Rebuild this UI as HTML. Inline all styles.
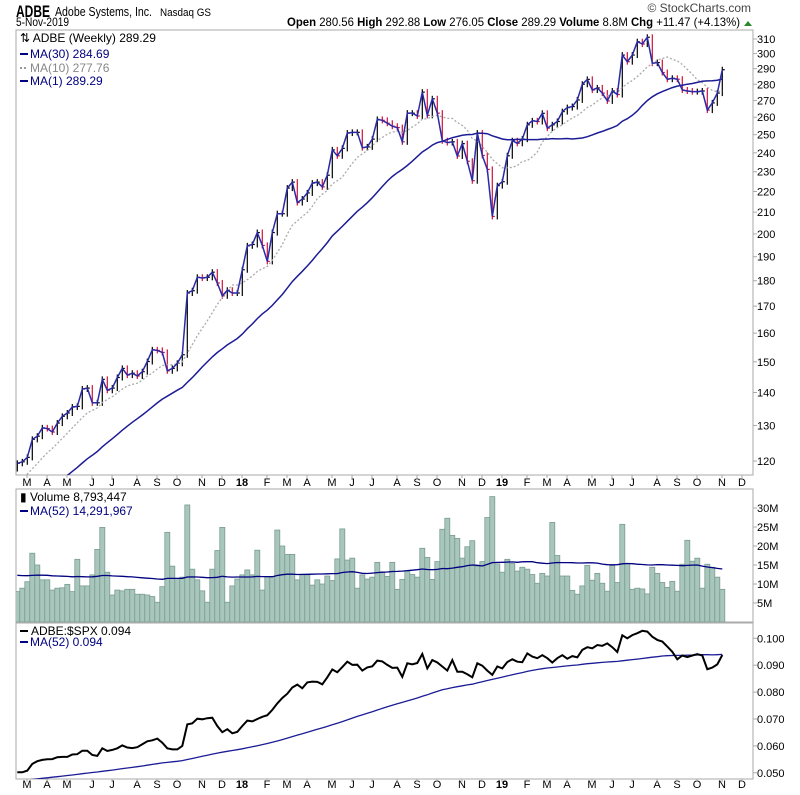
<!DOCTYPE html>
<html><head><meta charset="utf-8"><style>
body{margin:0;background:#fff;}
svg{display:block;font-family:"Liberation Sans",sans-serif;}
</style></head><body>
<svg id="chart" width="800" height="795" viewBox="0 0 800 795" xmlns="http://www.w3.org/2000/svg">
<defs>
<clipPath id="cpMain"><rect x="16" y="30" width="737" height="445"/></clipPath>
<clipPath id="cpVol"><rect x="16" y="489" width="737" height="133"/></clipPath>
<clipPath id="cpRat"><rect x="16" y="623" width="737" height="156"/></clipPath>
</defs>
<text x="16" y="17" font-size="17" font-weight="bold" textLength="34" lengthAdjust="spacingAndGlyphs">ADBE</text>
<text x="55" y="16" font-size="13" textLength="97" lengthAdjust="spacingAndGlyphs">Adobe Systems, Inc.</text>
<text x="160" y="16" font-size="11" textLength="51" lengthAdjust="spacingAndGlyphs">Nasdaq GS</text>
<text x="16" y="26" font-size="12" textLength="53" lengthAdjust="spacingAndGlyphs">5-Nov-2019</text>
<text x="751" y="12" font-size="12" text-anchor="end" fill="#444">© StockCharts.com</text>
<text x="287" y="26" font-size="12" textLength="453" lengthAdjust="spacingAndGlyphs"><tspan font-weight="bold">Open</tspan> 280.56 <tspan font-weight="bold">High</tspan> 292.88 <tspan font-weight="bold">Low</tspan> 276.05 <tspan font-weight="bold">Close</tspan> 289.29 <tspan font-weight="bold">Volume</tspan> 8.8M <tspan font-weight="bold">Chg</tspan> +11.47 (+4.13%)</text>
<path d="M744 26 L748 21 L752 26 Z" fill="#2a8a2a"/>
<rect x="16" y="30" width="737" height="445" fill="none" stroke="#aaa"/>
<rect x="16" y="489" width="737" height="133" fill="none" stroke="#aaa"/>
<rect x="16" y="623" width="737" height="156" fill="none" stroke="#aaa"/>
<g id="gPrice" clip-path="url(#cpMain)"></g>
<g id="gVol" clip-path="url(#cpVol)"></g>
<g id="gRat" clip-path="url(#cpRat)"></g>
<g id="gAxes"></g>
<g font-size="12">
<text x="20" y="42">⇅ ADBE (Weekly) 289.29</text>
<line x1="20" y1="54" x2="28" y2="54" stroke="#000080" stroke-width="2"/><text x="30" y="58" fill="#000080">MA(30) 284.69</text>
<line x1="20" y1="68" x2="28" y2="68" stroke="#999" stroke-width="2" stroke-dasharray="2,2"/><text x="30" y="72" fill="#888">MA(10) 277.76</text>
<line x1="20" y1="81" x2="28" y2="81" stroke="#000080" stroke-width="2"/><text x="30" y="85" fill="#000080">MA(1) 289.29</text>
</g>
<g font-size="12">
<text x="20" y="501">▮ Volume 8,793,447</text>
<line x1="20" y1="511" x2="28" y2="511" stroke="#000080" stroke-width="2"/><text x="30" y="515" fill="#000080">MA(52) 14,291,967</text>
</g>
<g font-size="12">
<line x1="20" y1="631" x2="28" y2="631" stroke="#000" stroke-width="2"/><text x="31" y="635">ADBE:$SPX 0.094</text>
<line x1="20" y1="642" x2="28" y2="642" stroke="#000080" stroke-width="2"/><text x="30" y="646" fill="#000080">MA(52) 0.094</text>
</g>
</svg>
<script>
const closes=[119.4,119.8,121,126,126.9,129.3,129.1,128.1,130.7,132.7,133.7,135.5,135.7,141.1,141.4,136.8,136.8,144.2,140.7,141.4,144.8,147.8,145.6,146.2,145.3,146.7,150.1,154.1,153.9,153.2,147.0,147.8,149.5,152.4,175.1,176,181.4,181.1,181.4,183.5,179.1,174.0,176.2,175.1,175.1,184.5,
194.7,195.3,200.6,194.9,188,200.6,209.3,209.3,221.7,224.7,214.6,216.3,219.3,224.2,224.7,222.3,228.2,241.6,238.4,242.4,250.9,251.3,251.3,242.8,243.2,247.5,258.7,258.2,256.5,254.8,254,246,262.4,262.4,260.7,275.1,261.1,271,262.4,246.6,245.6,246,238.3,245,235.5,225.4,250.9,238.6,231.2,208,222.9,
224.9,238.4,246.6,245.2,247.5,255.6,257.9,257.5,262.3,253.7,255.6,257.5,263.3,265.7,266.3,270.3,280,283.1,276.4,277.7,274.5,269.7,275.8,273.6,299,294.6,299,308.1,306.5,311.2,293.6,294,287.5,283.2,283.8,283.2,276.4,275.8,275.4,275.4,275.8,264.2,268.5,274.5,289.3];
const priceHistory=[101,102,103,101,100,102,103,104,103,102,103,104,106,107,108,106,105,106,108,109,110,111,112,113,114,115,116,117,118];
const volumes=[8.0,8.9,10.6,18.1,15.0,11.1,11.1,8.4,8.9,9.0,9.9,8.0,16.5,9.5,9.5,12.4,19.1,24.9,13.1,7.1,8.4,8.2,8.6,8.6,7.3,7.3,7.1,6.7,5.2,9.3,23.6,14.7,11.5,11.8,30.8,13.9,11.1,8.2,5.2,13.9,18.8,24.9,5.2,9.5,11.3,12.4,13.7,12.4,18.9,
8.4,11.9,11.9,24.2,20.0,17.8,17.8,11.1,12.4,12.4,9.7,11.1,10.0,12.1,10.9,16.6,24.5,16.3,16.8,8.9,12.4,11.3,11.8,15.7,13.2,12.0,
15.7,8.6,11.2,13.4,12.5,11.8,19.4,17.0,11.2,15.9,24.4,27.3,22.8,22.0,16.8,19.8,21.4,14.7,15.9,27.5,33.0,15.3,13.1,16.5,15.4,13.4,14.4,13.9,12.5,10.2,12.8,12.1,26.2,17.5,12.1,12.1,8.3,7.3,9.5,14.9,11.0,12.8,10.2,8.1,14.9,10.4,25.7,15.4,8.6,8.9,8.7,7.4,14.4,12.8,10.4,9.1,10.7,8.1,15.2,21.5,16.0,16.8,8.9,15.2,14.4,11.8,8.6];
const volumeHistory=[13,12,14,11,12,13,15,12,11,13,14,12,12,13,11,12,14,13,12,12,11,13,12,14,13,12,11,12,13,12,14,12,11,13,12,12,13,11,12,14,12,13,12,11,12,13,12,12,11,12,13];
const ratios=[.0502,.0502,.0508,.0533,.0543,.0548,.0550,.0551,.0558,.0559,.0559,.0568,.0569,.0582,.0582,.0566,.0563,.0591,.0581,.0585,.0591,.0602,.0594,.0592,.0595,.0606,.0617,.0621,.0627,.0612,.0591,.0587,.0587,.0600,.0680,.0684,.0701,.0699,.0703,.0705,.0674,.0651,.0662,.0647,.0652,.0674,.0694,.0691,.0700,.0708,.0714,.0734,.0758,.0778,.0794,.0817,.0828,.0814,.0836,.0839,.0838,.0829,.0855,.0884,.0874,.0893,.0913,.0901,.0902,.0880,.0892,.0896,.0917,.0914,.0901,.0890,.0891,.0857,.0907,.0903,.0908,.0942,.0888,.0919,.0910,.0895,.0880,.0919,.0876,.0876,.0866,.0855,.0907,.0898,.0880,.0864,.0895,.0888,.0912,.0922,.0913,
.0911,.0944,.0932,.0926,.0937,.0926,.0910,.0926,.0937,.0924,.0934,.0929,.0957,.0967,.0963,.0975,.0972,.0981,.0967,.0949,.1011,.1000,.1012,.1019,.1028,.1025,.1006,.0994,.0988,.0969,.0950,.0922,.0936,.0930,.0936,.0941,.0936,.0885,.0891,.0903,.0938];
const ratioHistory=[.043,.043,.044,.044,.044,.045,.044,.045,.045,.045,.046,.045,.046,.046,.046,.045,.046,.046,.047,.046,.046,.047,.047,.046,.047,.047,.047,.048,.047,.048,.048,.048,.047,.048,.048,.049,.048,.049,.049,.049,.048,.049,.049,.050,.049,.050,.050,.050,.049,.050,.050];
const priceTicks=[120,130,140,150,160,170,180,190,200,210,220,230,240,250,260,270,280,290,300,310];
const volTicks=[5,10,15,20,25,30];
const ratioTicks=[0.050,0.060,0.070,0.080,0.090,0.100];
const monthLabels=["M","A","M","J","J","A","S","O","N","D","18","F","M","A","M","J","J","A","S","O","N","D","19","F","M","A","M","J","J","A","S","O","N","D"];
const monthWeeks=[2,6,10,15,19,24,28,32,37,41,45,50,54,58,63,67,71,76,80,84,89,93,97,102,106,110,115,119,123,128,132,136,141,145];

const NS="http://www.w3.org/2000/svg";
function xOf(i){return 17.3+5*i;}
function yP(p){return 39+444.7*Math.log(310/p);}
function yV(v){return 622-3.8*v;}
function yR(r){return 638.3+(0.1-r)*2690;}
function mk(tag,attrs,parent){const e=document.createElementNS(NS,tag);for(const k in attrs)e.setAttribute(k,attrs[k]);parent.appendChild(e);return e;}
function ma(hist,data,n){const all=hist.concat(data);const out=[];for(let i=0;i<data.length;i++){const end=hist.length+i;let s=0,c=0;for(let j=end-n+1;j<=end;j++){if(j>=0){s+=all[j];c++;}}out.push(s/c);}return out;}
function pathOf(vals,yf){return vals.map((v,i)=>(i?'L':'M')+xOf(i).toFixed(1)+' '+yf(v).toFixed(1)).join(' ');}

const gP=document.getElementById('gPrice'),gV=document.getElementById('gVol'),gR=document.getElementById('gRat'),gA=document.getElementById('gAxes');
closes.forEach((c,i)=>{
  const prev=i?closes[i-1]:priceHistory[priceHistory.length-1];
  const hi=Math.max(prev,c),lo=Math.min(prev,c);
  const col=c<prev?'#d0103a':'#000';
  const x=xOf(i);
  const b=mk('line',{x1:x,x2:x,y1:yP(hi)-3,y2:yP(lo)+3,stroke:col,'stroke-width':1.2},gP);
  
  
  const t=mk('line',{x1:x,x2:x+2.5,y1:yP(c),y2:yP(c),stroke:col,'stroke-width':1.2},gP);
  
  
});
const ma10=ma(priceHistory,closes,10),ma30=ma(priceHistory,closes,30);
const l10=mk('path',{d:pathOf(ma10,yP),fill:'none',stroke:'#aaa','stroke-width':1.3,'stroke-dasharray':'2,2'},gP);


const l30=mk('path',{d:pathOf(ma30,yP),fill:'none',stroke:'#1c1c96','stroke-width':1.5},gP);


const l1=mk('path',{d:pathOf(closes,yP),fill:'none',stroke:'#2a2aa8','stroke-width':1.5},gP);


volumes.forEach((v,i)=>{
  const r=mk('rect',{x:xOf(i)-2.5,y:yV(v),width:5,height:622-yV(v),fill:'#a8c6bc',stroke:'#7a9c92','stroke-width':0.8},gV);
  
  
});
const vma=mk('path',{d:pathOf(ma(volumeHistory,volumes,52),yV),fill:'none',stroke:'#000080','stroke-width':1.3},gV);


const rma=mk('path',{d:pathOf(ma(ratioHistory,ratios,52),yR),fill:'none',stroke:'#1c1c96','stroke-width':1.3},gR);


const rl=mk('path',{d:pathOf(ratios,yR),fill:'none',stroke:'#000','stroke-width':2},gR);


priceTicks.forEach(p=>{
  const t=mk('text',{x:757,y:yP(p)+4,'font-size':11},gA);t.textContent=p;
  
  
  mk('line',{x1:753,x2:757,y1:yP(p),y2:yP(p),stroke:'#aaa'},gA);
});
volTicks.forEach(v=>{
  const t=mk('text',{x:757,y:yV(v)+4,'font-size':11},gA);t.textContent=v+'M';
  
  
  mk('line',{x1:753,x2:757,y1:yV(v),y2:yV(v),stroke:'#aaa'},gA);
});
ratioTicks.forEach(r=>{
  const t=mk('text',{x:757,y:yR(r)+4,'font-size':11},gA);t.textContent=r.toFixed(3);
  
  
  mk('line',{x1:753,x2:757,y1:yR(r),y2:yR(r),stroke:'#aaa'},gA);
});
monthLabels.forEach((m,k)=>{
  const x=xOf(monthWeeks[k])-0.3;
  [486,788].forEach(y=>{
    const t=mk('text',{x:x,y:y,'font-size':11,'text-anchor':'middle','font-weight':(m.length>1?'bold':'normal')},gA);t.textContent=m;
    
    
  });
  [475,779].forEach(y=>mk('line',{x1:x,x2:x,y1:y,y2:y+3,stroke:'#aaa'},gA));
});
</script>
</body></html>
